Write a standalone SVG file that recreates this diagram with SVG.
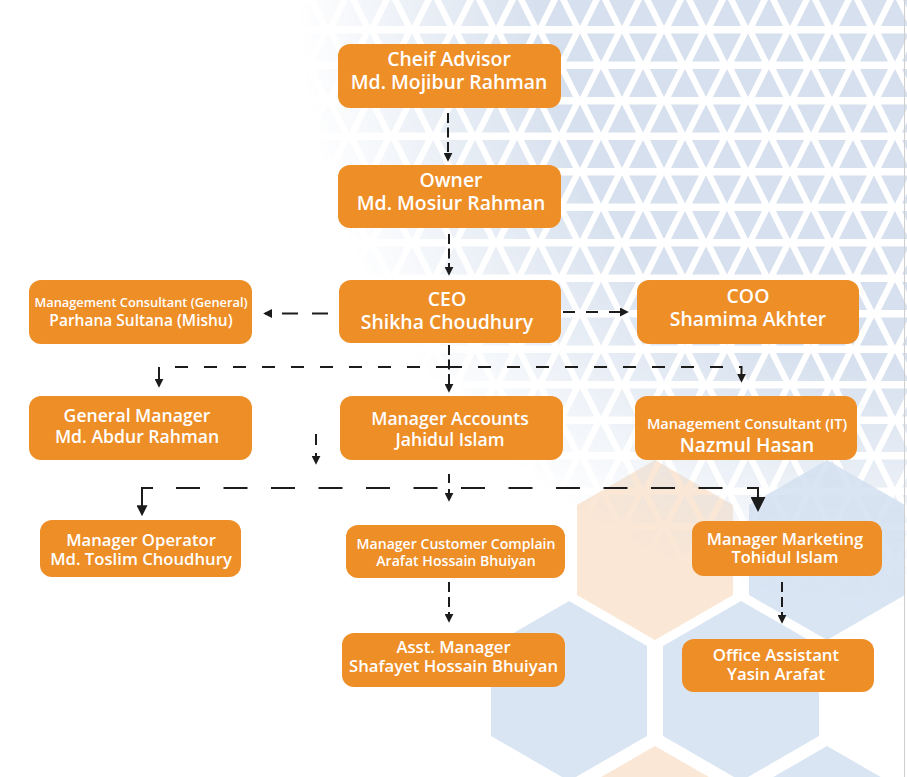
<svg xmlns="http://www.w3.org/2000/svg" width="907" height="777" viewBox="0 0 907 777">
<defs>
<style>
.box{fill:#ee8e27}
.t{font-family:'Open Sans','Noto Sans','DejaVu Sans',sans-serif;font-weight:600;fill:#ffffff;text-anchor:middle}
.hb{fill:#d9e5f3}
.hp{fill:#fae7d5}
.c{fill:none;stroke:#1c1c1c;stroke-width:2}
</style>
<pattern id="tri" patternUnits="userSpaceOnUse" x="41" y="-6" width="42" height="71">
<g fill="#d6e0ee">
<polygon points="0,32 14,4 28,32"/>
<polygon points="21,4 49,4 35,32"/>
<polygon points="-21,4 7,4 -7,32"/>
<polygon points="21,67.5 35,39.5 49,67.5"/>
<polygon points="-21,67.5 -7,39.5 7,67.5"/>
<polygon points="0,39.5 28,39.5 14,67.5"/>
</g>
</pattern>
<radialGradient id="fade" gradientUnits="userSpaceOnUse" cx="907" cy="0" r="610">
<stop offset="0" stop-color="#ffffff"/>
<stop offset="0.6" stop-color="#ffffff"/>
<stop offset="1" stop-color="#000000"/>
</radialGradient>
<mask id="fm" maskUnits="userSpaceOnUse" x="0" y="0" width="907" height="777">
<rect width="907" height="777" fill="url(#fade)"/>
</mask>
<marker id="ah" viewBox="0 0 10 10" refX="8" refY="5" markerWidth="9" markerHeight="9" markerUnits="userSpaceOnUse" orient="auto">
<path d="M0,0L10,5L0,10z" fill="#1c1c1c"/>
</marker>
<marker id="am" viewBox="0 0 10 10" refX="8" refY="5" markerWidth="11" markerHeight="11" markerUnits="userSpaceOnUse" orient="auto">
<path d="M0,0L10,5L0,10z" fill="#1c1c1c"/>
</marker>
<marker id="al" viewBox="0 0 10 10" refX="8" refY="5" markerWidth="15" markerHeight="15" markerUnits="userSpaceOnUse" orient="auto">
<path d="M0,0L10,5L0,10z" fill="#1c1c1c"/>
</marker>
</defs>
<rect width="907" height="777" fill="#ffffff"/>
<g id="hexagons">
<polygon class="hp" points="655,460 733,505 733,595 655,640 577,595 577,505"/>
<polygon class="hb" points="827,460 905,505 905,595 827,640 749,595 749,505"/>
<polygon class="hb" points="569,601 647,646 647,736 569,781 491,736 491,646"/>
<polygon class="hb" points="741,601 819,646 819,736 741,781 663,736 663,646"/>
<polygon class="hp" points="655,746 733,791 733,881 655,926 577,881 577,791"/>
<polygon class="hb" points="827,746 905,791 905,881 827,926 749,881 749,791"/>
</g>
<rect id="triangles" x="0" y="0" width="907" height="777" fill="url(#tri)" mask="url(#fm)"/>
<line x1="904.5" y1="0" x2="904.5" y2="777" stroke="#cfcfcf" stroke-width="1"/>
<g id="connectors">
<path class="c" d="M448,113 V160" stroke-dasharray="10 4.5" marker-end="url(#ah)"/>
<path class="c" d="M449,234 V274" stroke-dasharray="10 4.5" marker-end="url(#ah)"/>
<path class="c" d="M328,313.5 H265" stroke-dasharray="16 14" marker-end="url(#ah)"/>
<path class="c" d="M563,312 H627" stroke-dasharray="12 11" marker-end="url(#ah)"/>
<path class="c" d="M449,345 V391" stroke-dasharray="10 4.5" marker-end="url(#ah)"/>
<path class="c" d="M449,367 H159 V386" stroke-dasharray="13 16" marker-end="url(#ah)"/>
<path class="c" d="M449,367 H741.5 V381" stroke-dasharray="13 16" marker-end="url(#ah)"/>
<path class="c" d="M316,434 V463" stroke-dasharray="11 8" marker-end="url(#ah)"/>
<path class="c" d="M176,488 H724" stroke-width="3.2" stroke-dasharray="24 23.5"/>
<path class="c" d="M153,488 H142 V514" marker-end="url(#am)"/>
<path class="c" d="M747,488 H758 V509" stroke-width="2.5" marker-end="url(#al)"/>
<path class="c" d="M449,474 V500" stroke-dasharray="9 6" marker-end="url(#ah)"/>
<path class="c" d="M449,582 V621" stroke-dasharray="10 5" marker-end="url(#ah)"/>
<path class="c" d="M782,582 V622" stroke-dasharray="10 5" marker-end="url(#ah)"/>
</g>
<g id="n-cheif-advisor">
<rect class="box" x="338" y="44" width="223" height="64" rx="12"/>
<text class="t" font-size="19.4"><tspan x="449" y="66">Cheif Advisor</tspan><tspan x="449" y="89">Md. Mojibur Rahman</tspan></text>
</g>
<g id="n-owner">
<rect class="box" x="338" y="165" width="223" height="63" rx="12"/>
<text class="t" font-size="19.4"><tspan x="451" y="187">Owner</tspan><tspan x="451" y="210">Md. Mosiur Rahman</tspan></text>
</g>
<g id="n-ceo">
<rect class="box" x="339" y="280" width="222" height="63" rx="12"/>
<text class="t" font-size="19.4"><tspan x="447" y="306">CEO</tspan><tspan x="447" y="329">Shikha Choudhury</tspan></text>
</g>
<g id="n-consultant-general">
<rect class="box" x="29" y="280" width="223" height="64" rx="12"/>
<text class="t"><tspan x="141" y="307" font-size="12.8">Management Consultant (General)</tspan><tspan x="141" y="326" font-size="15.5">Parhana Sultana (Mishu)</tspan></text>
</g>
<g id="n-coo">
<rect class="box" x="637" y="280" width="222" height="64" rx="12"/>
<text class="t" font-size="19.4"><tspan x="748" y="303">COO</tspan><tspan x="748" y="326">Shamima Akhter</tspan></text>
</g>
<g id="n-general-manager">
<rect class="box" x="29" y="396" width="223" height="64" rx="12"/>
<text class="t" font-size="17.6"><tspan x="137" y="421.5">General Manager</tspan><tspan x="137" y="443">Md. Abdur Rahman</tspan></text>
</g>
<g id="n-manager-accounts">
<rect class="box" x="340" y="396" width="223" height="64" rx="12"/>
<text class="t" font-size="17.6"><tspan x="450" y="425">Manager Accounts</tspan><tspan x="450" y="446">Jahidul Islam</tspan></text>
</g>
<g id="n-consultant-it">
<rect class="box" x="635" y="396" width="222" height="64" rx="12"/>
<text class="t"><tspan x="747" y="428.5" font-size="14.6">Management Consultant (IT)</tspan><tspan x="747" y="452" font-size="19.2">Nazmul Hasan</tspan></text>
</g>
<g id="n-manager-operator">
<rect class="box" x="40" y="520" width="201" height="57" rx="12"/>
<text class="t" font-size="16.7"><tspan x="141" y="546">Manager Operator</tspan><tspan x="141" y="565">Md. Toslim Choudhury</tspan></text>
</g>
<g id="n-customer-complain">
<rect class="box" x="346" y="525" width="219" height="53" rx="12"/>
<text class="t" font-size="14.1"><tspan x="456" y="548.5">Manager Customer Complain</tspan><tspan x="456" y="566">Arafat Hossain Bhuiyan</tspan></text>
</g>
<g id="n-manager-marketing">
<rect class="box" x="692" y="521" width="190" height="55" rx="12"/>
<text class="t" font-size="16.5"><tspan x="785" y="545">Manager Marketing</tspan><tspan x="785" y="563">Tohidul Islam</tspan></text>
</g>
<g id="n-asst-manager">
<rect class="box" x="342" y="633" width="223" height="54" rx="12"/>
<text class="t" font-size="16.7"><tspan x="453.5" y="653">Asst. Manager</tspan><tspan x="453.5" y="672">Shafayet Hossain Bhuiyan</tspan></text>
</g>
<g id="n-office-assistant">
<rect class="box" x="682" y="639" width="192" height="53" rx="12"/>
<text class="t" font-size="16.8"><tspan x="776" y="661">Office Assistant</tspan><tspan x="776" y="680">Yasin Arafat</tspan></text>
</g>
</svg>
